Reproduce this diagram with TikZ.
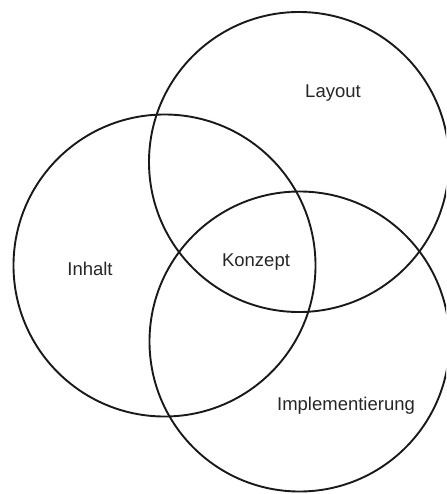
\documentclass[tikz,border=0pt]{standalone}
\usepackage{fontspec}
\setmainfont{Liberation Sans}
\begin{document}
\begin{tikzpicture}[x=1pt,y=-1pt,
  ring/.style={draw=black!90,line width=1.9pt},
  lbl/.style={font=\fontsize{18.5}{22}\selectfont,text=black!85,inner sep=0pt}]
\useasboundingbox (0,0) rectangle (446,494);
\begin{scope}
\clip (0,0) rectangle (446,494);
\node[ring,circle,minimum size=300pt,inner sep=0pt] (layout) at (299,162) {};
\node[ring,circle,minimum size=302pt,inner sep=0pt] (inhalt) at (164.5,265.5) {};
\node[ring,circle,minimum size=300pt,inner sep=0pt] (impl) at (299.5,341.5) {};
\end{scope}
\node[lbl] (tlayout) at (333,93) {Layout};
\node[lbl] (tinhalt) at (90,269) {Inhalt};
\node[lbl] (tkonzept) at (256,262) {Konzept};
\node[lbl] (timpl) at (346,406) {Implementierung};
\end{tikzpicture}
\end{document}
